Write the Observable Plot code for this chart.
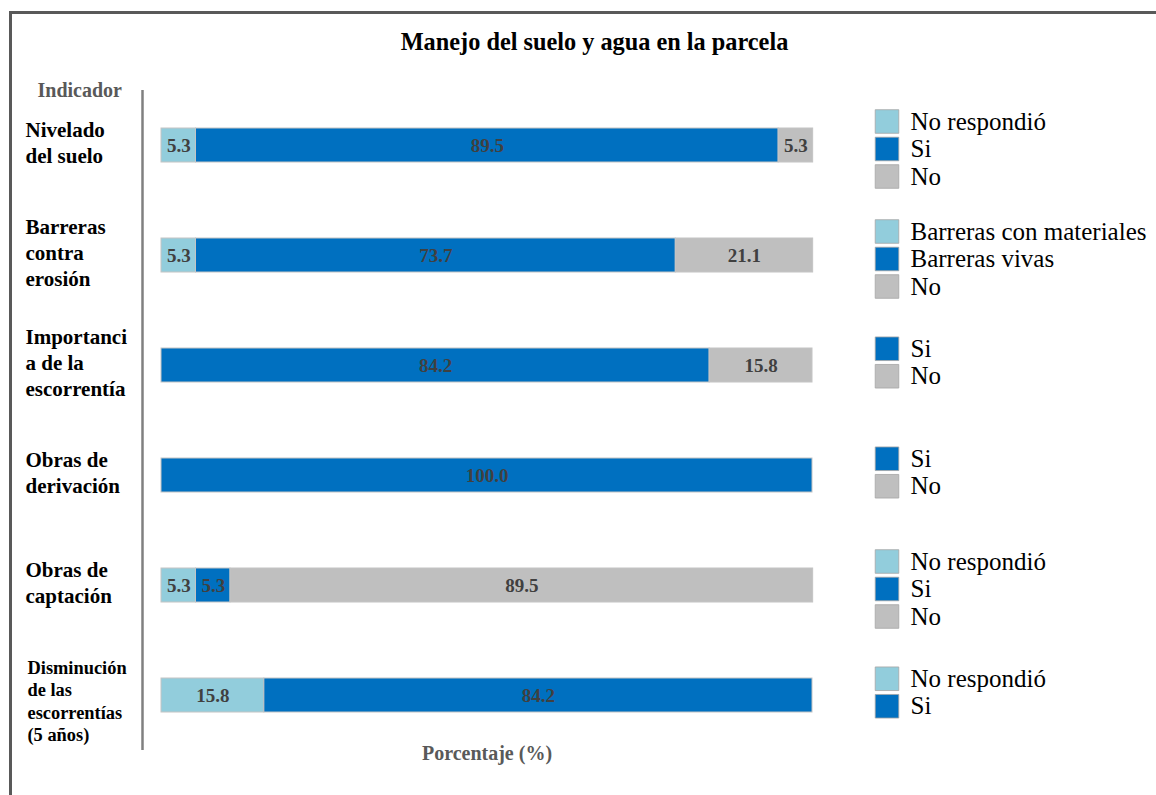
<!DOCTYPE html>
<html>
<head>
<meta charset="utf-8">
<script src="https://cdn.jsdelivr.net/npm/d3@7"></script>
<script src="https://cdn.jsdelivr.net/npm/@observablehq/plot@0.6"></script>
<style>
  html, body { margin: 0; padding: 0; background: #fff; overflow: hidden; }
  #wrap { position: relative; width: 1156px; height: 795px; overflow: hidden; }
  #border { position: absolute; left: 9px; top: 11px; width: 1300px; height: 1000px;
            border: 3.5px solid #595959; box-sizing: border-box; }
  #chart { position: absolute; left: 0; top: 0; }
  #chart svg text { font-family: 'Liberation Serif', 'Times New Roman', serif; }
</style>
</head>
<body>
<div id="wrap"><div id="border"></div><div id="chart"></div></div>
<script>
// ---- data ----
const title = "Manejo del suelo y agua en la parcela";
const indicators = [
  "Nivelado\ndel suelo",
  "Barreras\ncontra\nerosión",
  "Importanci\na de la\nescorrentía",
  "Obras de\nderivación",
  "Obras de\ncaptación",
  "Disminución\nde las\nescorrentías\n(5 años)"
];
const segmentKeys = ["nr", "si", "no"];
const segmentColors = ["#92CDDC", "#0070C0", "#BFBFBF"];
// first segment: "No respondió" (or "Barreras con materiales")
const firstValues = [5.3, 5.3, 0, 0, 5.3, 15.8];
// second segment: "Si" (or "Barreras vivas")
const siValues = [89.5, 73.7, 84.2, 100.0, 5.3, 84.2];
// third segment: "No"
const noValues = [5.3, 21.1, 15.8, 0, 89.5, 0];
const legendLabels = [
  ["No respondió", "Si", "No"],
  ["Barreras con materiales", "Barreras vivas", "No"],
  ["Si", "No"],
  ["Si", "No"],
  ["No respondió", "Si", "No"],
  ["No respondió", "Si"]
];
const legendKeys = [
  ["nr", "si", "no"],
  ["nr", "si", "no"],
  ["si", "no"],
  ["si", "no"],
  ["nr", "si", "no"],
  ["nr", "si"]
];
const yLabel = "Indicador";
const xLabel = "Porcentaje (%)";

// ---- build tables ----
const seriesValues = [firstValues, siValues, noValues];
const rows = [];
indicators.forEach((ind, i) => {
  segmentKeys.forEach((k, j) => {
    const v = seriesValues[j][i];
    if (v > 0) rows.push({indicator: ind, key: k, value: v});
  });
});
const legendRows = [];
indicators.forEach((ind, i) => {
  const n = legendLabels[i].length;
  legendLabels[i].forEach((lab, k) => {
    legendRows.push({indicator: ind, label: lab, key: legendKeys[i][k], k, n});
  });
});

const serif = "'Liberation Serif', 'Times New Roman', serif";
const step = 27.5;
const legendMarks = [];
for (const n of [2, 3]) {
  for (let k = 0; k < n; k++) {
    const sub = legendRows.filter(d => d.n === n && d.k === k);
    const off = (k - (n - 1) / 2) * step + (n === 3 ? 3.5 : -3);
    legendMarks.push(Plot.dot(sub, {
      y: "indicator", fill: "key", frameAnchor: "right", dx: 74.5, dy: off,
      symbol: "square", r: 13.3, stroke: "#a6a6a6", strokeWidth: 0.8
    }));
    legendMarks.push(Plot.text(sub, {
      y: "indicator", text: "label", frameAnchor: "right", textAnchor: "start",
      dx: 98, dy: off, fontSize: 25, fill: "#000", fontFamily: serif
    }));
  }
}

const chart = Plot.plot({
  width: 1156,
  height: 795,
  marginLeft: 161,
  marginRight: 344,
  marginTop: 90,
  marginBottom: 45,
  style: {fontFamily: serif, background: "transparent", overflow: "visible"},
  x: {domain: [0, 100], axis: null},
  y: {domain: indicators, axis: null, paddingInner: 0.69, paddingOuter: 0.345},
  color: {domain: segmentKeys, range: segmentColors},
  marks: [
    Plot.ruleX([0], {dx: -19, stroke: "#808080", strokeWidth: 2.5}),
    Plot.barX(rows, Plot.stackX({
      x: "value", y: "indicator", fill: "key", stroke: "#c4c4c4", strokeWidth: 1
    })),
    Plot.text(rows, Plot.stackX({
      x: "value", y: "indicator", text: d => d.value.toFixed(1),
      fontSize: 19, fontWeight: "bold", fill: "#404040", fontFamily: serif
    })),
    Plot.text(indicators.filter(d => d.split("\n").length < 4), {
      y: d => d, text: d => d, frameAnchor: "left", textAnchor: "start", dx: -136, dy: -4,
      fontSize: 21, fontWeight: "bold", lineHeight: 1.24, fill: "#000", fontFamily: serif
    }),
    Plot.text(indicators.filter(d => d.split("\n").length >= 4), {
      y: d => d, text: d => d, frameAnchor: "left", textAnchor: "start", dx: -134, dy: 5,
      fontSize: 18.4, fontWeight: "bold", lineHeight: 1.22, fill: "#000", fontFamily: serif
    }),
    Plot.text([yLabel], {
      text: d => d, frameAnchor: "top-left", textAnchor: "start", lineAnchor: "middle",
      dx: -124, dy: 0,
      fontSize: 20, fontWeight: "bold", fill: "#595959", fontFamily: serif
    }),
    Plot.text([xLabel], {
      text: d => d, frameAnchor: "bottom", lineAnchor: "middle", dy: 3,
      fontSize: 20, fontWeight: "bold", fill: "#595959", fontFamily: serif
    }),
    Plot.text([title], {
      text: d => d, frameAnchor: "top", lineAnchor: "middle", dx: 107.5, dy: -48,
      fontSize: 24.3, fontWeight: "bold", fill: "#000", fontFamily: serif
    }),
    ...legendMarks
  ]
});
document.getElementById("chart").appendChild(chart);
</script>
</body>
</html>
